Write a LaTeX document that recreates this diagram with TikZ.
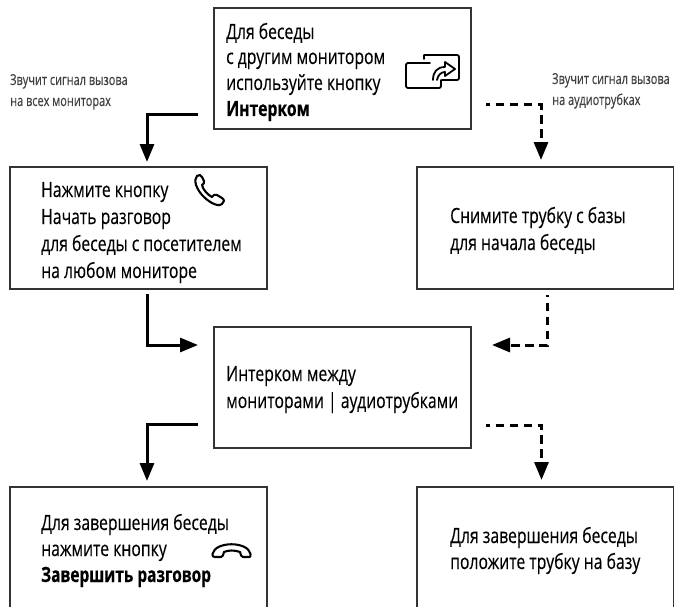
\documentclass[tikz,border=0pt]{standalone}
\usepackage{fontspec}
\setmainfont[FakeStretch=0.75,FakeBold=0.25]{Open Sans}
\usetikzlibrary{arrows.meta,calc}
\tikzset{
  boxn/.style={draw=black!80,line width=1.6pt,minimum width=257pt,inner sep=0pt,fill=white},
  txt/.style={anchor=base west,inner sep=0pt,font=\fontsize{21}{26}\selectfont,text=black},
  small/.style={anchor=base west,inner sep=0pt,font=\fontsize{15}{20}\selectfont\addfontfeature{FakeStretch=0.73},text=black!75},
  solidc/.style={line width=3pt,-{Triangle[length=18pt,width=14pt]}},
  dashc/.style={line width=3pt,dash pattern=on 8.5pt off 5.5pt,dash phase=4.5pt,-{Triangle[length=18pt,width=14pt]}},
  ico/.style={line width=1.8pt,black,line join=round,line cap=round}
}
\begin{document}
\begin{tikzpicture}[x=1pt,y=-1pt]
\useasboundingbox (0,0) rectangle (674,607);
\clip (0,0) rectangle (674,607);
\fill[white] (0,0) rectangle (674,607);
% boxes
\node[boxn,minimum height=120.5pt] (top) at (342.5,68.5) {};
\node[boxn,minimum height=122pt] (left) at (138.5,228) {};
\node[boxn,minimum height=122pt] (right) at (545.5,228) {};
\node[boxn,minimum height=121pt] (center) at (342.5,387.5) {};
\node[boxn,minimum height=180pt] (bleft) at (138.5,577) {};
\node[boxn,minimum height=180pt] (bright) at (545.5,577) {};
% text
\node[txt] (t1) at (226,39) {Для беседы};
\node[txt] (t2) at (226,64) {с другим монитором};
\node[txt] (t3) at (226,90) {используйте кнопку};
\node[txt] (t4) at (226,116) {\bfseries Интерком};
\node[txt] (l1) at (41,197) {Нажмите кнопку};
\node[txt] (l2) at (41,224) {Начать разговор};
\node[txt] (l3) at (41,251) {для беседы с посетителем};
\node[txt] (l4) at (41,278) {на любом мониторе};
\node[txt] (r1) at (450,223) {Снимите трубку с базы};
\node[txt] (r2) at (450,250) {для начала беседы};
\node[txt] (c1) at (226,381) {Интерком между};
\node[txt] (c2) at (226,408) {мониторами | аудиотрубками};
\node[txt] (b1) at (41,530) {Для завершения беседы};
\node[txt] (b2) at (41,556) {нажмите кнопку};
\node[txt] (b3) at (41,582) {\bfseries\addfontfeature{FakeStretch=0.735}Завершить разговор};
\node[txt] (d1) at (450,543) {Для завершения беседы};
\node[txt] (d2) at (450,569) {положите трубку на базу};
\node[small] (s1) at (10,85) {Звучит сигнал вызова};
\node[small] (s2) at (10,106) {на всех мониторах};
\node[small] (s3) at (552,84) {Звучит сигнал вызова};
\node[small] (s4) at (552,105) {на аудиотрубках};
% connector ends
\coordinate (a1) at (198,115); \coordinate (a1e) at (147,162);
\coordinate (a2) at (147,294); \coordinate (a2e) at (198,345);
\coordinate (a3) at (198,424); \coordinate (a3e) at (147,481);
\coordinate (a4) at (486,105); \coordinate (a4e) at (541,160);
\coordinate (a5) at (547,295); \coordinate (a5e) at (492,345);
\coordinate (a6) at (486,425); \coordinate (a6e) at (541.5,480);
\draw[solidc] (a1) -| (a1e);
\draw[solidc] (a2) |- (a2e);
\draw[solidc] (a3) -| (a3e);
\draw[dashc] (a4) -| (a4e);
\draw[dashc,dash phase=6.5pt] (a5) |- (a5e);
\draw[dashc] (a6) -| (a6e);
% intercom icon
\draw[ico] (424,59) -- (424,55) -- (457,55) to[out=0,in=90] (459,57) -- (459,78) to[out=-90,in=0] (457,80) -- (442,80);
\draw[ico] (430,63) -- (408,63) to[out=180,in=90] (406,65) -- (406,86) to[out=-90,in=180] (408,88) -- (439,88) to[out=0,in=-90] (441,86) -- (441,80);
\draw[ico] (433,80) .. controls (433,72) and (437,67) .. (445,67) -- (445,62) -- (455,69) -- (445,76) -- (445,72) .. controls (441,72) and (438,75) .. (437,80);
% phone icon (call)
\draw[ico,line width=2.1pt] (197,176) .. controls (199,174) and (201,175) .. (202,177) -- (204,181) .. controls (205,183) and (203,184) .. (202,185) .. controls (203,190) and (208,195) .. (212,197) .. controls (213,195) and (215,194) .. (217,195) -- (222,198) .. controls (225,200) and (224,202) .. (222,204) .. controls (219,206) and (216,205) .. (212,203) .. controls (205,199) and (199,193) .. (196,185) .. controls (195,181) and (195,178) .. (197,176) -- cycle;
% phone icon (hang up)
\draw[ico,line width=2.1pt] (212.5,554) .. controls (215,541) and (248,541) .. (250.5,554) .. controls (251,557) and (250,557) .. (249,557) -- (243,557) .. controls (241,557) and (241,555) .. (240,552) .. controls (235,550) and (228,550) .. (224,552) .. controls (223,555) and (223,557) .. (221,557) -- (215,557) .. controls (213,557) and (212,556) .. (212.5,554) -- cycle;
\end{tikzpicture}
\end{document}
